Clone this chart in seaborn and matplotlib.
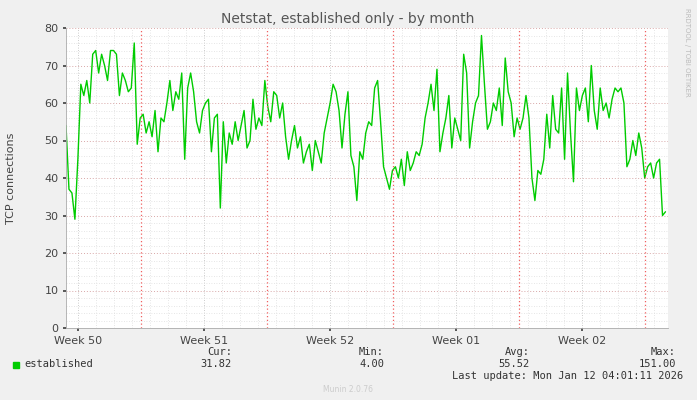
import matplotlib
matplotlib.use("Agg")
import matplotlib.pyplot as plt
import numpy as np
import seaborn as sns

established = [
    54, 37, 36, 29, 45, 65, 62, 66, 60, 73, 74, 68, 73, 70, 66, 74, 74, 73, 62, 68,
    66, 63, 64, 76, 49, 56, 57, 52, 55, 51, 58, 47, 56, 55, 60, 66, 58, 63, 61, 68,
    45, 64, 68, 63, 55, 52, 58, 60, 61, 47, 56, 57, 32, 55, 44, 52, 49, 55, 50, 54,
    58, 48, 50, 61, 53, 56, 54, 66, 59, 55, 63, 62, 56, 60, 51, 45, 50, 54, 48, 51,
    44, 47, 49, 42, 50, 47, 44, 52, 56, 60, 65, 63, 58, 48, 57, 63, 46, 43, 34, 47,
    45, 52, 55, 54, 64, 66, 55, 43, 40, 37, 42, 43, 40, 45, 38, 47, 42, 44, 47, 46,
    49, 56, 60, 65, 58, 69, 47, 52, 56, 62, 48, 56, 53, 50, 73, 68, 48, 55, 60, 62,
    78, 65, 53, 55, 60, 58, 64, 54, 72, 63, 60, 51, 56, 53, 56, 62, 56, 40, 34, 42,
    41, 45, 57, 48, 62, 53, 52, 64, 45, 68, 52, 39, 64, 58, 62, 64, 55, 70, 58, 53,
    64, 58, 60, 56, 61, 64, 63, 64, 60, 43, 45, 50, 46, 52, 48, 40, 43, 44, 40, 44,
    45, 30, 31,
]
week_labels = ["Week 50", "Week 51", "Week 52", "Week 01", "Week 02"]
week_pos = [0.095, 1.095, 2.095, 3.095, 4.095]      # in weeks
week_bounds = [0.595, 1.595, 2.595, 3.595, 4.595]
stats_hdr = ["Cur:", "Min:", "Avg:", "Max:"]
stats_val = ["31.82", "4.00", "55.52", "151.00"]

sns.set_theme(style="white")
plt.rcParams["font.family"] = ["DejaVu Sans"]
mono = "DejaVu Sans Mono"

fig = plt.figure(figsize=(6.97, 4.0), dpi=100, facecolor="#F0F0F0")
ax = fig.add_axes([66 / 697, 72 / 400, 602 / 697, 300 / 400])
ax.set_facecolor("white")

x = np.linspace(0, 4.76, len(established))
sns.lineplot(x=x, y=established, ax=ax, color="#00CC00", linewidth=1)

ax.set_xlim(0, 4.78)
ax.set_ylim(0, 80)
ax.set_yticks(range(0, 81, 10))
ax.set_yticks(range(0, 81, 2), minor=True)
ax.set_xticks(week_pos)
ax.set_xticklabels(week_labels)
ax.set_xticks(np.arange(0.095, 4.78, 1 / 7), minor=True)
ax.grid(which="minor", color="#DDDDDD", linestyle=(0, (1, 2)), linewidth=0.6)
ax.grid(which="major", axis="y", color="#D8A8A8", linestyle=(0, (1, 2)), linewidth=0.7)
ax.grid(which="major", axis="x", color="#BBBBBB", linestyle=(0, (1, 2)), linewidth=0.6)
for b in week_bounds:
    ax.axvline(b, color="#F06060", linestyle=(0, (1, 2)), linewidth=0.9)
ax.tick_params(axis="both", labelsize=8, colors="#444444", length=2, left=True, bottom=True)
for s in ["top", "right"]:
    ax.spines[s].set_visible(False)
for s in ["left", "bottom"]:
    ax.spines[s].set_color("#AAAAAA")
    ax.spines[s].set_linewidth(0.6)
ax.set_ylabel("TCP connections", fontsize=8, color="#444444", labelpad=20)

fig.text(348 / 697, 1 - 19 / 400, "Netstat, established only - by month", ha="center",
         va="center", fontsize=10, color="#555555")
fig.text(687 / 697, 1 - 52 / 400, "RRDTOOL / TOBI OETIKER", rotation=270, ha="center",
         va="center", fontsize=5, color="#BBBBBB")

fig.patches.append(plt.Rectangle((13 / 697, 1 - 368 / 400), 6 / 697, 6 / 400,
                                 transform=fig.transFigure, color="#00CC00"))
fig.text(24 / 697, 1 - 364 / 400, "established", fontsize=7.5, va="center",
         color="#333333", family=mono)
cols = [232, 384, 530, 676]
for cx, h, v in zip(cols, stats_hdr, stats_val):
    fig.text(cx / 697, 1 - 352 / 400, h, ha="right", va="center", fontsize=7.5,
             color="#333333", family=mono)
    fig.text(cx / 697, 1 - 364 / 400, v, ha="right", va="center", fontsize=7.5,
             color="#333333", family=mono)
fig.text(683 / 697, 1 - 376 / 400, "Last update: Mon Jan 12 04:01:11 2026", ha="right",
         va="center", fontsize=7.5, color="#333333", family=mono)
fig.text(348 / 697, 1 - 389 / 400, "Munin 2.0.76", ha="center", va="center",
         fontsize=5.5, color="#CCCCCC")

fig.savefig("out.png", dpi=100, facecolor=fig.get_facecolor())
